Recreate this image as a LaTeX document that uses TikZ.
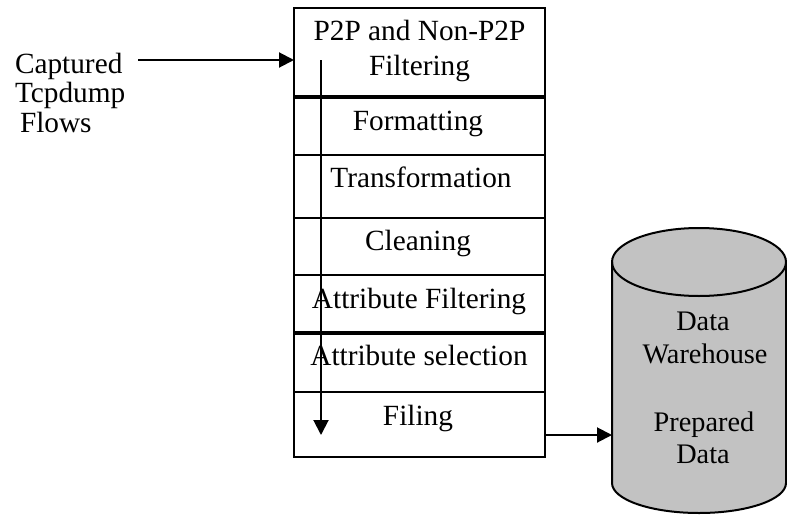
\documentclass[tikz,border=0pt]{standalone}
\usepackage{fontspec}
\setmainfont{Liberation Serif}
\usetikzlibrary{arrows.meta}
\begin{document}
\begin{tikzpicture}[x=1pt,y=-1pt,
  every node/.style={inner sep=0pt,outer sep=0pt},
  txt/.style={anchor=base,font=\fontsize{29.3}{30}\selectfont},
  dwtxt/.style={anchor=base,font=\fontsize{28.3}{30}\selectfont},
  stage/.style={draw,line width=2pt,minimum width=251pt,anchor=north west},
  sep/.style={line width=3.2pt},
  flow/.style={line width=2pt,-{Triangle[length=15pt,width=15pt]}},
  dwfill/.style={fill=black!24}]
\useasboundingbox (0,0) rectangle (787,514);

% stacked preparation stages
\node[stage,minimum height=89pt] (r1) at (294,8) {};
\node[stage,minimum height=58pt] (r2) at (294,97) {};
\node[stage,minimum height=63pt] (r3) at (294,155) {};
\node[stage,minimum height=57pt] (r4) at (294,218) {};
\node[stage,minimum height=58pt] (r5) at (294,275) {};
\node[stage,minimum height=59pt] (r6) at (294,333) {};
\node[stage,minimum height=65pt] (r7) at (294,392) {};
\draw[sep] (r1.south west) -- (r1.south east);
\draw[sep] (r6.north west) -- (r6.north east);

\node[txt] (t1a) at (419.5,40) {P2P and Non-P2P};
\node[txt] (t1b) at (419.5,75) {Filtering};
\node[txt] (t2) at (418,130) {Formatting};
\node[txt] (t3) at (421,187) {Transformation};
\node[txt] (t4) at (418,250) {Cleaning};
\node[txt] (t5) at (419,308) {Attribute Filtering};
\node[txt] (t6) at (419,365) {Attribute selection};
\node[txt] (t7) at (418,425) {Filing};

% processing direction through the stages
\coordinate (downTop) at (321,60);
\coordinate (downEnd) at (321,435);
\draw[flow] (downTop) -- (downEnd);

% incoming flows
\node[txt,anchor=base west] (c1) at (15,73) {Captured};
\node[txt,anchor=base west] (c2) at (15,102) {Tcpdump};
\node[txt,anchor=base west] (c3) at (20,132) {Flows};
\coordinate (inStart) at (138,60);
\draw[flow] (inStart) -- (inStart -| r1.west);

% data warehouse cylinder
\coordinate (dwTL) at (612,262);
\coordinate (dwTR) at (786,262);
\coordinate (dwBL) at (612,483);
\path[dwfill] (dwTL) -- (dwBL)
  arc[start angle=180,end angle=360,x radius=87pt,y radius=30pt]
  -- (dwTR)
  arc[start angle=0,end angle=180,x radius=87pt,y radius=34pt] -- cycle;
\draw[line width=2pt] (dwTL) -- (dwBL)
  arc[start angle=180,end angle=360,x radius=87pt,y radius=30pt]
  -- (dwTR)
  arc[start angle=0,end angle=180,x radius=87pt,y radius=34pt];
\draw[line width=2pt] (dwTL)
  arc[start angle=180,end angle=360,x radius=87pt,y radius=34pt];
\node[dwtxt] (d1) at (703,330) {Data};
\node[dwtxt] (d2) at (705,363) {Warehouse};
\node[dwtxt] (d3) at (704,431) {Prepared};
\node[dwtxt] (d4) at (703,463) {Data};

% output to warehouse
\coordinate (dwIn) at (612,435);
\draw[flow] (r7.east |- dwIn) -- (dwIn);
\end{tikzpicture}
\end{document}
